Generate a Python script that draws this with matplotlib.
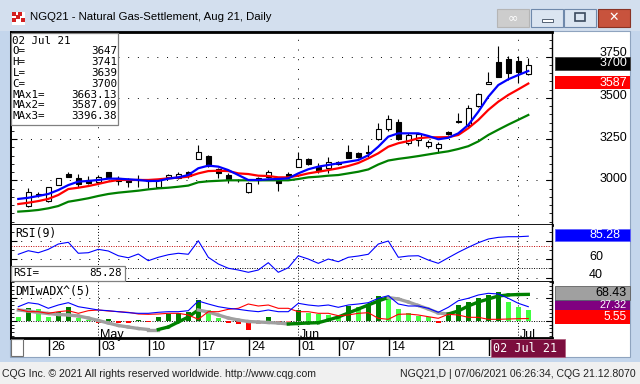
import numpy as np
import matplotlib
matplotlib.use("Agg")
import matplotlib.pyplot as plt
from matplotlib.patches import Rectangle
from matplotlib.ticker import MultipleLocator, FixedLocator

# ---- values (NGQ21 daily) ----
# bar 0 = 22 Apr 2021 ... bar 50 = 02 Jul 2021 (no bar on 31 May)
opens = [2846, 2918, 2876, 2972, 3040, 3012, 3002, 2988, 3049, 3016,
         3002, 3008, 2998, 2958, 3022, 3014, 3049, 3131, 3147, 3067,
         3030, 3000, 2927, 3012, 3018, 3002, 3038, 3083, 3127, 3083,
         3073, 3100, 3173, 3167, 3173, 3250, 3311, 3352, 3225, 3245,
         3210, 3198, 3291, 3362, 3336, 3453, 3583, 3716, 3736, 3726, 3647]
highs = [2951, 2931, 2961, 3016, 3048, 3038, 3025, 3030, 3053, 3028,
         3017, 3035, 3001, 3009, 3036, 3052, 3058, 3214, 3154, 3072,
         3042, 3010, 2988, 3022, 3060, 3012, 3052, 3170, 3133, 3103,
         3140, 3118, 3214, 3174, 3214, 3346, 3396, 3372, 3285, 3285,
         3245, 3234, 3297, 3407, 3457, 3528, 3659, 3815, 3754, 3754, 3741]
lows = [2836, 2900, 2870, 2969, 3020, 2958, 2977, 2976, 3018, 2971,
        2958, 2958, 2951, 2952, 3017, 3008, 3012, 3131, 3082, 3016,
        2985, 2990, 2921, 2976, 3015, 2937, 3012, 3083, 3093, 3042,
        3046, 3092, 3135, 3134, 3143, 3245, 3300, 3245, 3215, 3208,
        3196, 3168, 3273, 3346, 3325, 3447, 3583, 3629, 3609, 3592, 3639]
closes = [2927, 2912, 2958, 3012, 3022, 2976, 2985, 3022, 3022, 2998,
          2988, 3000, 2994, 3002, 3030, 3036, 3026, 3172, 3089, 3042,
          3008, 3004, 2982, 3002, 3049, 2982, 3022, 3127, 3097, 3058,
          3113, 3110, 3137, 3143, 3167, 3309, 3370, 3250, 3275, 3279,
          3234, 3218, 3279, 3352, 3437, 3522, 3595, 3629, 3649, 3659, 3700]

# studies start one bar earlier (21 Apr)
ma1 = [2887, 2894, 2905, 2917, 2941, 2971, 2992, 2996, 3002, 3010, 3010,
       3006, 3002, 2996, 2996, 3010, 3018, 3032, 3073, 3089, 3083, 3062,
       3032, 3002, 3002, 3006, 3008, 3012, 3042, 3067, 3083, 3093, 3103,
       3113, 3123, 3152, 3204, 3265, 3285, 3285, 3285, 3269, 3249, 3258,
       3285, 3336, 3416, 3507, 3578, 3613, 3639, 3663.13]
ma2 = [2856, 2864, 2874, 2887, 2911, 2947, 2955, 2965, 2978, 2992, 3002,
       3002, 3002, 3002, 3006, 3012, 3016, 3022, 3042, 3056, 3058, 3056,
       3042, 3038, 3028, 3026, 3018, 3018, 3028, 3042, 3052, 3062, 3073,
       3087, 3105, 3133, 3164, 3204, 3225, 3238, 3255, 3261, 3261, 3262,
       3275, 3316, 3366, 3427, 3477, 3518, 3552, 3587.09]
ma3 = [2810, 2814, 2820, 2830, 2844, 2870, 2880, 2891, 2905, 2917, 2925,
       2931, 2937, 2945, 2951, 2955, 2961, 2968, 2988, 2994, 2997, 3000,
       3000, 3000, 3000, 3000, 3000, 3000, 3008, 3018, 3022, 3028, 3032,
       3042, 3052, 3066, 3096, 3120, 3130, 3138, 3147, 3157, 3167, 3176,
       3190, 3207, 3236, 3275, 3307, 3338, 3367, 3396.38]
rsi = [65.5, 69.4, 67.2, 70.9, 76.7, 78.6, 66.6, 67.2, 70.9, 69.1, 63.9,
       61.7, 65.8, 58.5, 62.2, 65.0, 66.6, 65.5, 80.3, 62.2, 54.9, 50.2,
       48.3, 45.8, 48.3, 56.3, 45.8, 50.8, 63.9, 60.3, 55.6, 60.3, 57.4,
       62.2, 63.6, 65.5, 76.7, 80.0, 62.2, 63.6, 63.9, 59.2, 55.6, 61.7,
       67.7, 73.1, 78.1, 82.2, 84.0, 84.7, 84.7, 85.28]
di_plus = [36.4, 46.8, 43.4, 32.2, 40.8, 46.8, 36.4, 32.2, 27.8, 26.0, 23.4,
           20.8, 19.2, 19.2, 21.8, 23.4, 23.4, 26.0, 51.2, 43.4, 36.4, 32.2,
           29.6, 26.0, 23.4, 27.8, 23.4, 23.4, 45.2, 40.8, 38.2, 40.8, 34.8,
           40.8, 43.4, 46.8, 58.2, 65.0, 43.4, 38.2, 38.2, 32.2, 21.8, 34.8,
           52.0, 58.2, 66.8, 71.2, 69.4, 58.2, 45.2, 36.4]
di_minus = [29.6, 23.4, 23.4, 19.2, 23.4, 26.0, 19.2, 26.0, 27.8, 25.2, 23.4,
            21.8, 17.4, 16.6, 17.4, 19.2, 19.2, 14.8, 3.6, 23.4, 23.4, 29.6,
            32.2, 43.4, 38.2, 40.8, 32.2, 32.2, 23.4, 23.4, 19.2, 19.2, 13.0,
            14.8, 19.2, 20.8, 6.2, 3.6, 16.6, 17.4, 14.8, 10.4, 6.2, 16.6,
            14.8, 8.8, 8.8, 3.6, 3.6, 4.4, 5.2, 5.55]
adx = [27.8, 25.2, 21.3, 18.7, 16.1, 14.8, 12.2, 7.0, 0.5, -6.0, -12.5,
       -16.4, -20.3, -22.9, -22.9, -16.4, -3.4, 9.6, 27.8, 22.6, 14.8, 7.0,
       1.8, -2.1, -3.4, -4.7, -6.0, -8.6, -7.3, -6.0, -5.2, 1.8, 9.6,
       20.0, 30.4, 40.8, 51.2, 60.3, 56.4, 48.6, 39.5, 30.4, 20.0, 17.4,
       25.2, 38.2, 48.6, 56.4, 64.2, 67.0, 68.0, 68.43]
dmi_hist = [10.4, 32.2, 29.6, 8.8, 23.4, 36.4, 7.0, 3.1, -5.2, 3.6, -5.2,
            -6.0, 1.8, -3.4, 8.8, 17.4, 20.0, 22.6, 53.8, 27.8, 7.0, -6.8,
            -7.3, -24.2, -9.4, 8.8, -9.4, -6.8, 27.8, 20.8, 17.4, 14.8, 12.2,
            38.2, 34.8, 43.4, 64.2, 61.6, 29.6, 19.2, 12.2, 8.8, -6.0, 22.6,
            40.8, 49.4, 58.2, 66.8, 74.6, 49.4, 36.4, 27.32]

# weekly ticks; the 28 Jun label sits under the cursor date box
tick_bars = [2, 7, 12, 17, 22, 27, 31, 36, 41, 46]
tick_labels = ['26', '03', '10', '17', '24', '01', '07', '14', '21', '']
month_bars = [7, 27, 49]
month_labels = ['May', 'Jun', 'Jul']
price_levels = [3000, 3250, 3500, 3750]

W, H = 640, 384
fig = plt.figure(figsize=(6.4, 3.84), dpi=100, facecolor='#c4d6ec')


def fbox(x0, y0, x1, y1, z=-1, **kw):
    r = Rectangle((x0 / W, 1 - y1 / H), (x1 - x0) / W, (y1 - y0) / H,
                  transform=fig.transFigure, zorder=z, **kw)
    fig.add_artist(r)


def ftext(x, y, s, **kw):
    kw.setdefault('va', 'center')
    return fig.text(x / W, 1 - y / H, s, **kw)


def pax(x0, y0, x1, y1):
    return fig.add_axes([x0 / W, 1 - y1 / H, (x1 - x0) / W, (y1 - y0) / H])


SANS = 'Liberation Sans'
MONO = 'DejaVu Sans Mono'

# window chrome
fbox(0, 0, 640, 31, facecolor='#d3dfee', lw=0)
fbox(0, 362, 640, 384, facecolor='#f0f0f0', lw=0)
fbox(10, 31, 630, 357, facecolor='white', edgecolor='#8fa4bf', lw=0.8)
fbox(12, 12, 25, 25, z=2, facecolor='white', lw=0)
for (a, b) in [(12, 12), (18, 12), (12, 18), (21, 18), (16, 15)]:
    fbox(a, b, a + 4, b + 4, z=3, facecolor='#d42020', lw=0)
ftext(30, 17, 'NGQ21 - Natural Gas-Settlement, Aug 21, Daily', fontsize=8.2,
      family=SANS, color='black')
fbox(497, 9, 529, 27, z=2, facecolor='#cdcdcd', edgecolor='#b5b5b5', lw=0.8)
ftext(513, 17.5, '∞', fontsize=9, ha='center', color='white', family='DejaVu Sans')
for x0 in (531, 564):
    fbox(x0, 9, x0 + 32, 27, z=2, facecolor='#dbe5f1', edgecolor='#6f89ab', lw=0.8)
fbox(542, 19, 553, 22, z=3, facecolor='white', edgecolor='#3b4a5e', lw=0.6)
fbox(575, 13, 585, 21, z=3, facecolor='none', edgecolor='#3b4a5e', lw=1.2)
fbox(598, 9, 630, 27, z=2, facecolor='#c8533d', edgecolor='#8a3325', lw=0.8)
ftext(614, 17.5, '✕', fontsize=9, ha='center', color='white',
      family='DejaVu Sans', fontweight='bold')
ftext(2, 374, 'CQG Inc. © 2021 All rights reserved worldwide. http://www.cqg.com',
      fontsize=7.6, family=SANS, color='#202020')
ftext(636, 374, 'NGQ21,D | 07/06/2021 06:26:34, CQG 21.12.8070', fontsize=7.6,
      family=SANS, ha='right', color='#202020')

XL = (-1.73, 52.37)
bx = np.arange(len(opens))
sx = np.arange(-1, len(opens))


def style_panel(ax, ylim, major, minor):
    ax.set_xlim(*XL)
    ax.set_ylim(*ylim)
    ax.set_facecolor('white')
    for s in ax.spines.values():
        s.set_color('black')
    ax.spines['top'].set_linewidth(0)
    ax.spines['bottom'].set_linewidth(2.0)
    ax.spines['left'].set_linewidth(1.4)
    ax.spines['right'].set_linewidth(1.0)
    ax.set_xticks([])
    ax.yaxis.set_major_locator(FixedLocator(major))
    ax.yaxis.set_minor_locator(MultipleLocator(minor))
    ax.tick_params(axis='y', which='major', direction='in', length=4, width=0.8,
                   left=True, right=True, labelleft=False, labelright=False)
    ax.tick_params(axis='y', which='minor', direction='in', length=2, width=0.6,
                   left=True, right=True)


def month_lines(ax, dense):
    for b in month_bars:
        if dense:
            ax.axvline(b, color='black', lw=0.7, dashes=(1, 2), zorder=1)
        else:
            ax.axvline(b, color='black', lw=0.7, dashes=(1, 9), zorder=1)


# ---- price panel ----
main = pax(11, 32, 552, 225)
style_panel(main, (2728.8, 3899.9), price_levels, 50)
main.spines['top'].set_linewidth(2.0)
for lv in price_levels:
    main.axhline(lv, color='black', lw=0.7, dashes=(1, 9), zorder=1)
month_lines(main, False)
o = np.array(opens)
c = np.array(closes)
main.vlines(bx, lows, highs, color='black', lw=0.8, zorder=3)
main.bar(bx, np.maximum(np.abs(c - o), 2), bottom=np.minimum(o, c), width=0.45,
         color=np.where(c >= o, 'white', 'black'), edgecolor='black', lw=0.8,
         zorder=4)
main.plot(sx, ma3, color='#008000', lw=1.6, zorder=5)
main.plot(sx, ma2, color='#ff0000', lw=1.6, zorder=5)
main.plot(sx, ma1, color='#0000ff', lw=1.6, zorder=5)

# ---- RSI panel ----
rax = pax(11, 225, 552, 282)
style_panel(rax, (35.2, 97.5), [40, 60, 80], 10)
for lv in (40, 60, 80):
    rax.axhline(lv, color='black', lw=0.7, dashes=(1, 9), zorder=1)
rax.axhline(75, color='#c00000', lw=0.7, dashes=(1, 1.5), zorder=1)
rax.axhline(50, color='black', lw=0.7, dashes=(1, 1.5), zorder=1)
month_lines(rax, True)
rax.plot(sx, rsi, color='#0000ff', lw=0.8, zorder=3)

# ---- DMI / ADX panel ----
dax = pax(11, 282, 552, 338)
style_panel(dax, (-45, 100.6), [0, 60], 10)
dax.axhline(60, color='black', lw=0.7, dashes=(1, 9), zorder=1)
dax.axhline(0, color='black', lw=0.7, dashes=(1, 1.5), zorder=1)
month_lines(dax, True)
hist_cols = []
for i, v in enumerate(dmi_hist):
    prev = dmi_hist[i - 1] if i else v
    if v >= 0:
        hist_cols.append('#008000' if v > prev else '#40ff40')
    else:
        hist_cols.append('#ff0000' if v <= prev else '#ff8080')
dax.bar(sx, dmi_hist, width=0.55, color=hist_cols, lw=0, zorder=2)
for i in range(len(sx) - 1):
    col = '#008000' if adx[i + 1] > adx[i] else '#a0a0a0'
    dax.plot(sx[i:i + 2], adx[i:i + 2], color=col, lw=2.4,
             solid_capstyle='projecting', zorder=3)
dax.plot(sx, di_minus, color='#ff0000', lw=0.8, zorder=4)
dax.plot(sx, di_plus, color='#0000ff', lw=0.8, zorder=4)
for b, lab in zip(month_bars, month_labels):
    dax.text(b + 0.2, -36, lab, fontsize=9, family=SANS, va='center', zorder=5)

# ---- date strip ----
tax = pax(11, 338, 630, 356)
tax.set_xlim(XL[0], XL[0] + (630 - 11) / 10)
tax.set_ylim(0, 1)
tax.axis('off')
for b, lab in zip(tick_bars, tick_labels):
    tax.axvline(b + 0.07, color='black', lw=1.0)
    if lab:
        tax.text(b + 0.3, 0.5, lab, fontsize=9, family=SANS, va='center')
fbox(11, 339, 23, 356, z=5, facecolor='white', edgecolor='#707070', lw=0.8)
fbox(491, 338.5, 565, 357, z=5, facecolor='#7c0e3e', edgecolor='#b06080', lw=0.6)
ftext(493, 348, '02 Jul 21', fontsize=8.5, family=MONO, color='white', zorder=6)

# ---- info boxes ----
fbox(11, 33, 118, 125, z=5, facecolor='white', edgecolor='#808080', lw=0.9)
info = [('02 Jul 21', ''), ('O=', f'{opens[-1]}'), ('H=', f'{highs[-1]}'),
        ('L=', f'{lows[-1]}'), ('C=', f'{closes[-1]}'),
        ('MAx1=', f'{ma1[-1]:.2f}'), ('MAx2=', f'{ma2[-1]:.2f}'),
        ('MAx3=', f'{ma3[-1]:.2f}')]
for k, (a, b) in enumerate(info):
    yy = 40.5 + k * 10.8
    ftext(12.5, yy, a, fontsize=7.8, family=MONO, zorder=6)
    if b:
        ftext(117, yy, b, fontsize=7.8, family=MONO, ha='right', zorder=6)
ftext(15, 234, 'RSI(9)', fontsize=8.3, family=MONO, zorder=6)
fbox(11, 266, 125, 281, z=5, facecolor='white', edgecolor='#808080', lw=0.9)
ftext(13, 273.5, 'RSI=', fontsize=7.8, family=MONO, zorder=6)
ftext(122, 273.5, f'{rsi[-1]:.2f}', fontsize=7.8, family=MONO, ha='right', zorder=6)
ftext(15, 292, 'DMIwADX^(5)', fontsize=8.3, family=MONO, zorder=6)

# ---- right scale labels ----
for lv, yy in zip(price_levels, (178.5, 137.5, 95.8, 52.5)):
    ftext(627, yy, f'{lv}', fontsize=9, family=SANS, ha='right', zorder=5)
fbox(555, 57, 630, 70, z=6, facecolor='black', edgecolor='#404040', lw=0.6)
ftext(627, 63.5, f'{closes[-1]}', fontsize=9, family=SANS, ha='right',
      color='white', zorder=7)
fbox(555, 76, 630, 89, z=6, facecolor='#ff0000', lw=0)
ftext(627, 82.5, f'{ma2[-1]:.0f}', fontsize=9, family=SANS, ha='right',
      color='white', zorder=7)

ftext(589, 257.3, '60', fontsize=9, family=SANS, zorder=5)
ftext(589, 275, '40', fontsize=9, family=SANS, zorder=5)
fbox(555, 228.5, 630, 240.5, z=6, facecolor='#0000ff', edgecolor='#6060ff', lw=0.6)
ftext(589, 234.5, f'{rsi[-1]:.2f}', fontsize=9, family=SANS, color='white', zorder=7)

fbox(555, 300, 630, 312, z=5, facecolor='#0000ff', lw=0)
fbox(555, 301.2, 630, 313, z=6, facecolor='#800080', lw=0)
ftext(627, 305.3, f'{dmi_hist[-1]:.2f}', fontsize=7.8, family=SANS, ha='right',
      color='white', zorder=6.5)
fbox(555, 286, 630, 299.5, z=6, facecolor='#a0a0a0', edgecolor='#606060', lw=0.6)
ftext(627, 292.5, f'{adx[-1]:.2f}', fontsize=9, family=SANS, ha='right', zorder=7)
fbox(555, 310, 630, 324, z=7, facecolor='#ff0000', lw=0)
ftext(627, 317.3, f'{di_minus[-1]:.2f}', fontsize=8.6, family=SANS, ha='right',
      color='white', zorder=8)

fig.savefig('out.png', dpi=100, facecolor=fig.get_facecolor())
